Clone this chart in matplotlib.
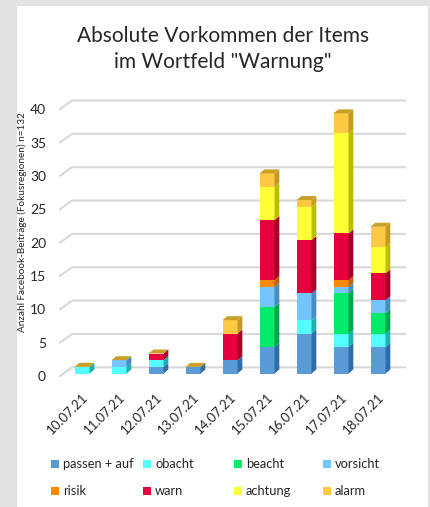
import matplotlib
matplotlib.use('Agg')
import matplotlib.pyplot as plt
import matplotlib.transforms as mtransforms
from matplotlib.patches import Polygon, Rectangle, Patch

plt.rcParams['font.family'] = ['Lato', 'DejaVu Sans']

dates = ['10.07.21', '11.07.21', '12.07.21', '13.07.21', '14.07.21',
         '15.07.21', '16.07.21', '17.07.21', '18.07.21']
items = ['passen + auf', 'obacht', 'beacht', 'vorsicht',
         'risik', 'warn', 'achtung', 'alarm']

passen = [0, 0, 1, 1, 2, 4, 6, 4, 4]
obacht = [1, 1, 1, 0, 0, 0, 2, 2, 2]
beacht = [0, 0, 0, 0, 0, 6, 0, 6, 3]
vorsicht = [0, 1, 0, 0, 0, 3, 4, 1, 2]
risik = [0, 0, 0, 0, 0, 1, 0, 1, 0]
warn = [0, 0, 1, 0, 4, 9, 8, 7, 4]
achtung = [0, 0, 0, 0, 0, 5, 5, 15, 4]
alarm = [0, 0, 0, 0, 2, 2, 1, 3, 3]

series = [passen, obacht, beacht, vorsicht, risik, warn, achtung, alarm]
front = ['#5B9BD5', '#55FFFF', '#00EB6A', '#74C5FF',
         '#FF8A00', '#E8003C', '#FFFF38', '#FFC845']
side = ['#2F6DAA', '#1FB0B0', '#00A64A', '#4A8CC0',
        '#BF6200', '#A5002A', '#BDBD00', '#C49A24']
top_col = '#C9A127'

W, H = 430, 507
fig = plt.figure(figsize=(W / 100, H / 100), dpi=100)
fig.patch.set_facecolor('#E2E2E2')
fig.add_artist(Rectangle((17 / W, 0), (428 - 17) / W, 1 - 6 / H,
                         transform=fig.transFigure, facecolor='white',
                         edgecolor='none', zorder=0))

ax = fig.add_axes([60 / W, 1 - 380 / H, 348 / W, 290 / H])
ax.set_facecolor('none')
xmin, xmax = -0.595, 8.81
ax.set_xlim(xmin, xmax)
ax.set_ylim(-0.97, 42.5)
for s in ax.spines.values():
    s.set_visible(False)

# back wall gridlines with a short slanted floor edge on the left
for v in range(0, 45, 5):
    ax.plot([xmin, -0.27, 8.73], [v - 0.37, v + 0.93, v + 0.93],
            color='#D9D9D9', lw=1.5, zorder=1, clip_on=False)

w = 0.405
dx, dy = 0.13, 0.6
x = list(range(len(dates)))
bottom = [0] * len(dates)
for vals, fc, sc in zip(series, front, side):
    ax.bar(x, vals, w, bottom=bottom, color=fc, edgecolor='none', zorder=3)
    for i, v in enumerate(vals):
        if v == 0:
            continue
        b = bottom[i]
        r = i + w / 2
        ax.add_patch(Polygon([(r, b), (r + dx, b + dy), (r + dx, b + v + dy), (r, b + v)],
                             closed=True, facecolor=sc, edgecolor='none', zorder=3))
    bottom = [b + v for b, v in zip(bottom, vals)]

for i, t in enumerate(bottom):
    l, r = i - w / 2, i + w / 2
    ax.add_patch(Polygon([(l, t), (l + dx, t + dy), (r + dx, t + dy), (r, t)],
                         closed=True, facecolor=top_col, edgecolor='none', zorder=3))

ax.set_yticks(range(0, 45, 5))
ax.tick_params(axis='y', length=0, pad=10, labelsize=10, labelcolor='#262626')
shift = mtransforms.ScaledTranslation(0, -2.5 / 100, fig.dpi_scale_trans)
for lab in ax.get_yticklabels():
    lab.set_transform(lab.get_transform() + shift)

ax.set_xticks(x, dates, rotation=45, ha='right', rotation_mode='anchor')
ax.tick_params(axis='x', length=0, pad=8, labelsize=9.5, labelcolor='#262626')

fig.text(22 / W, 1 - 222 / H, 'Anzahl Facebook-Beiträge (Fokusregionen) n=132',
         rotation=90, ha='center', va='center', fontsize=7.2, color='#262626')

fig.text(223 / W, 1 - 49 / H, 'Absolute Vorkommen der Items\nim Wortfeld "Warnung"',
         ha='center', va='center', fontsize=15, linespacing=1.35, color='#262626')

# legend: four columns of two entries each
col_x = [45, 137, 228, 317]
for c in range(4):
    hs = [Patch(facecolor=front[k], edgecolor='none') for k in (c, c + 4)]
    fig.legend(hs, [items[c], items[c + 4]], loc='upper left',
               bbox_to_anchor=(col_x[c] / W, 1 - 452 / H), frameon=False,
               fontsize=9.3, handlelength=0.6, handleheight=0.6,
               handletextpad=0.3, labelspacing=1.15, borderpad=0,
               labelcolor='#262626')

fig.savefig('out.png', dpi=100)
